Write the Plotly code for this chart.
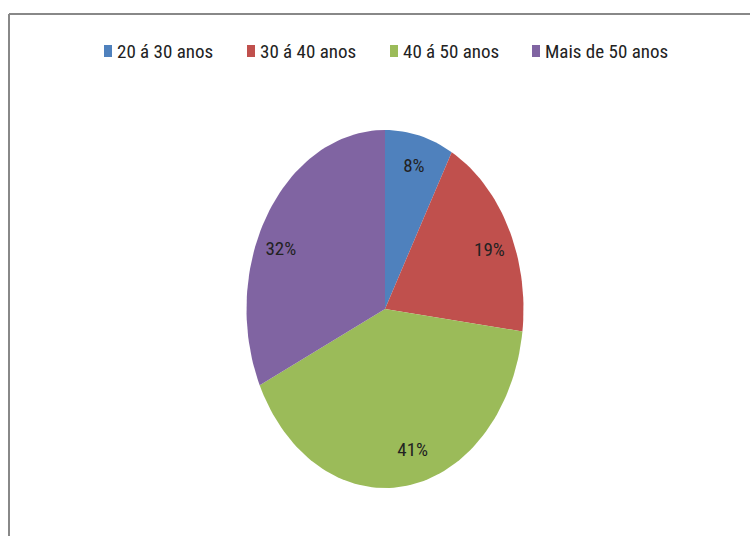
import math
import plotly.graph_objects as go

# Age distribution (percent)
categories = ["20 á 30 anos", "30 á 40 anos", "40 á 50 anos", "Mais de 50 anos"]
values = [8, 19, 41, 32]
colors = ["#4F81BD", "#C0504D", "#9BBB59", "#8064A2"]

W, H = 750, 536
FONT = ("Roboto Condensed, Noto Sans Condensed, Open Sans Condensed, "
        "DejaVu Sans Condensed, sans-serif")
LEGEND_SIZE = 19
LABEL_SIZE = 19
TEXT_WEIGHT = 400
TEXT_COLOR = "#222222"

# Elliptical pie geometry (in pixel-like axis units, y grows downward)
cx, cy, rx, ry = 385.0, 309.0, 138.5, 179.0

fig = go.Figure()


def screen_angle(t):
    return math.atan2(rx * math.sin(t), ry * math.cos(t))


total = float(sum(values))
start = 0.0
label_x, label_y, label_t = [], [], []
for cat, val, col in zip(categories, values, colors):
    frac0 = start / total
    frac1 = (start + val) / total
    t0, t1 = 2 * math.pi * frac0, 2 * math.pi * frac1
    n = max(8, int(200 * (frac1 - frac0)))
    xs, ys = [cx], [cy]
    for i in range(n + 1):
        t = t0 + (t1 - t0) * i / n
        xs.append(cx + rx * math.sin(t))
        ys.append(cy - ry * math.cos(t))
    xs.append(cx)
    ys.append(cy)
    fig.add_trace(go.Scatter(
        x=xs, y=ys, mode="lines", fill="toself", fillcolor=col,
        line=dict(width=0, color=col), hoverinfo="skip", showlegend=False,
        name=cat,
    ))

    # label: middle of the on-screen angle, at 82% of the ellipse radius
    a0 = screen_angle(t0)
    a1 = screen_angle(t1)
    while a1 <= a0:
        a1 += 2 * math.pi
    am = (a0 + a1) / 2
    s, c = math.sin(am), math.cos(am)
    r = 1.0 / math.sqrt((s / rx) ** 2 + (c / ry) ** 2)
    label_x.append(cx + 0.82 * r * s)
    label_y.append(cy - 0.82 * r * c)
    label_t.append(f"{val}%")
    start += val

fig.add_trace(go.Scatter(
    x=label_x, y=label_y, mode="text", text=label_t,
    textfont=dict(family=FONT, size=LABEL_SIZE, color=TEXT_COLOR, weight=TEXT_WEIGHT),
    textposition="middle center", hoverinfo="skip", showlegend=False,
))

# Legend row
legend_x = [104, 247, 390, 532]
shapes = [
    # chart frame (top and left edges visible)
    dict(type="line", xref="x", yref="y", x0=9, y0=14, x1=W + 5, y1=14,
         line=dict(color="#888888", width=2)),
    dict(type="line", xref="x", yref="y", x0=9, y0=14, x1=9, y1=H + 5,
         line=dict(color="#888888", width=2)),
]
annotations = []
for lx, cat, col in zip(legend_x, categories, colors):
    shapes.append(dict(type="rect", xref="x", yref="y", x0=lx, x1=lx + 8,
                       y0=45, y1=57, fillcolor=col, line=dict(width=0)))
    annotations.append(dict(x=lx + 11, y=51, xref="x", yref="y", text=cat,
                            showarrow=False, xanchor="left", yanchor="middle",
                            font=dict(family=FONT, size=LEGEND_SIZE, color=TEXT_COLOR,
                                      weight=TEXT_WEIGHT)))

fig.update_layout(
    width=W, height=H,
    margin=dict(l=0, r=0, t=0, b=0),
    paper_bgcolor="white", plot_bgcolor="white",
    xaxis=dict(range=[0, W], visible=False, fixedrange=True),
    yaxis=dict(range=[H, 0], visible=False, fixedrange=True),
    shapes=shapes, annotations=annotations,
    showlegend=False,
)

fig.write_html("out.html")
